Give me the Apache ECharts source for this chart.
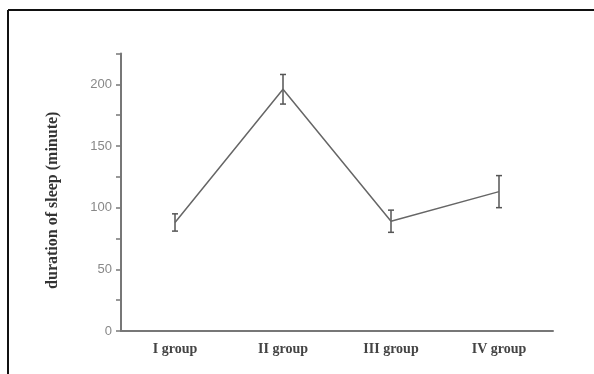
<!DOCTYPE html>
<html>
<head>
<meta charset="utf-8">
<script src="https://cdn.jsdelivr.net/npm/echarts@6/dist/echarts.min.js"></script>
<style>html,body{margin:0;padding:0;background:#fff}#c{width:594px;height:374px}</style>
</head>
<body>
<div id="c"></div>
<script>
const categories = ['I group', 'II group', 'III group', 'IV group'];
const means = [88, 196, 89, 113];
const errors = [7, 12, 9, 13];
const yTicks = [0, 50, 100, 150, 200];

const chart = echarts.init(document.getElementById('c'), null, {renderer: 'canvas'});
const errData = categories.map((c, i) => [i, means[i] - errors[i], means[i] + errors[i]]);

chart.setOption({
  animation: false,
  backgroundColor: '#fff',
  grid: {left: 121, right: 41, top: 53.5, bottom: 43},
  graphic: [
    {type: 'line', shape: {x1: 8, y1: 10, x2: 594, y2: 10}, style: {stroke: '#111', lineWidth: 2}},
    {type: 'line', shape: {x1: 8, y1: 10, x2: 8, y2: 374}, style: {stroke: '#111', lineWidth: 2}}
  ],
  xAxis: [{
    type: 'category',
    data: categories,
    boundaryGap: true,
    axisLine: {lineStyle: {color: '#777', width: 2}},
    axisTick: {alignWithLabel: true, length: 4, lineStyle: {color: '#666', width: 1.5}},
    axisLabel: {margin: 11, color: '#444', fontFamily: 'Liberation Serif, serif', fontWeight: 'bold', fontSize: 14}
  }, {
    type: 'category',
    data: categories,
    boundaryGap: true,
    position: 'bottom',
    axisLine: {show: false},
    axisTick: {length: 3, lineStyle: {color: '#666', width: 1.5}},
    axisLabel: {show: false}
  }],
  yAxis: {
    type: 'value',
    min: 0, max: 225, interval: 25,
    name: 'duration of sleep (minute)',
    nameLocation: 'middle',
    nameRotate: 90,
    nameGap: 60,
    nameTextStyle: {color: '#333', fontFamily: 'Liberation Serif, serif', fontWeight: 'bold', fontSize: 16, padding: [0, 16, 0, 0]},
    axisLine: {show: true, lineStyle: {color: '#777', width: 2}},
    axisTick: {show: true, length: 5, lineStyle: {color: '#777', width: 1.5}},
    splitLine: {show: false},
    axisLabel: {
      margin: 9, color: '#888', fontFamily: 'Liberation Sans, Arial, sans-serif', fontSize: 13,
      formatter: v => yTicks.indexOf(v) >= 0 ? String(v) : ''
    }
  },
  series: [{
    type: 'line',
    data: means,
    symbol: 'none',
    lineStyle: {color: '#666', width: 1.5}
  }, {
    type: 'custom',
    data: errData,
    renderItem: function (params, api) {
      const x = api.value(0);
      const lo = api.coord([x, api.value(1)]);
      const hi = api.coord([x, api.value(2)]);
      const w = 3;
      const st = {stroke: '#555', lineWidth: 1.5};
      return {type: 'group', children: [
        {type: 'line', shape: {x1: lo[0], y1: lo[1], x2: hi[0], y2: hi[1]}, style: st},
        {type: 'line', shape: {x1: lo[0] - w, y1: lo[1], x2: lo[0] + w, y2: lo[1]}, style: st},
        {type: 'line', shape: {x1: hi[0] - w, y1: hi[1], x2: hi[0] + w, y2: hi[1]}, style: st}
      ]};
    },
    z: 3
  }]
});
</script>
</body>
</html>
